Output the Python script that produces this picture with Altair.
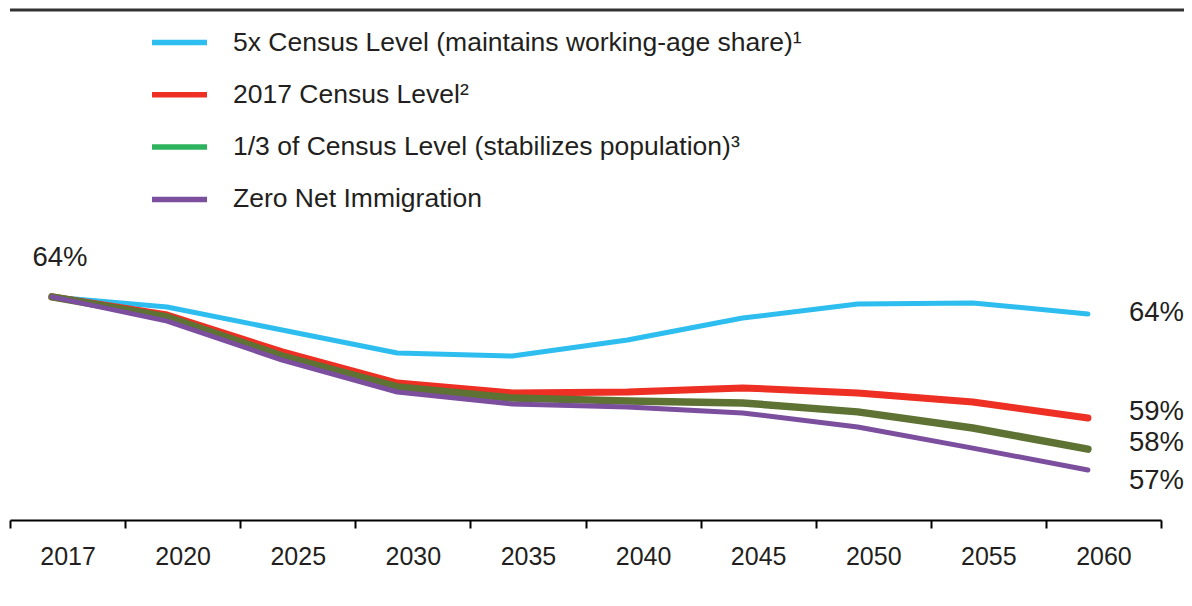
import altair as alt
import pandas as pd

years = ["2017", "2020", "2025", "2030", "2035", "2040", "2045", "2050", "2055", "2060"]
series = [
    "5x Census Level (maintains working-age share)¹",
    "2017 Census Level²",
    "1/3 of Census Level (stabilizes population)³",
    "Zero Net Immigration",
]
five_x = [64.25, 63.85, 62.95, 62.05, 61.93, 62.56, 63.42, 63.97, 64.01, 63.58]
census = [64.25, 63.54, 62.09, 60.87, 60.48, 60.52, 60.68, 60.48, 60.13, 59.50]
third = [64.25, 63.46, 61.93, 60.72, 60.28, 60.17, 60.09, 59.74, 59.11, 58.28]
zero = [64.25, 63.30, 61.77, 60.52, 60.05, 59.93, 59.70, 59.15, 58.32, 57.46]
end_labels = ["64%", "59%", "58%", "57%"]
start_label = "64%"

line_colors = ["#2DBDEF", "#EE2F24", "#5E7233", "#7B4F9E"]
legend_colors = ["#2DBDEF", "#EE2F24", "#2DB35E", "#7B4F9E"]
line_widths = [5, 7, 7.5, 5]
end_dy = [-1, -6, -6, 10.5]

FONT = "Liberation Sans"
TXT = "#231F20"

rows = []
for s, vals in zip(series, [five_x, census, third, zero]):
    for y, v in zip(years, vals):
        rows.append({"series": s, "year": y, "value": v})
df = pd.DataFrame(rows)

BP = 0.365
x_enc = alt.X(
    "year:O",
    sort=years,
    bandPosition=BP,
    scale=alt.Scale(type="band", domain=years, paddingInner=0, paddingOuter=0),
    axis=alt.Axis(
        title=None, labelAngle=0, tickBand="extent", domainColor="#000000",
        domainWidth=2, tickColor="#000000", tickWidth=2, tickSize=8,
        labelFontSize=25, labelFont=FONT, labelColor=TXT, labelPadding=16,
        grid=False,
    ),
)
y_enc = alt.Y("value:Q", scale=alt.Scale(domain=[55.5, 75.5], nice=False, zero=False), axis=None)

base = alt.Chart(df)
layers = []

# top rule
layers.append(
    alt.Chart(pd.DataFrame({"a": [0]})).mark_rule(color="#333333", strokeWidth=3).encode(
        y=alt.value(0), x=alt.value(0), x2=alt.value(1182)
    )
)

for s, c, w in zip(series, line_colors, line_widths):
    layers.append(
        base.transform_filter(alt.datum.series == s)
        .mark_line(color=c, strokeWidth=w, strokeCap="round", strokeJoin="round")
        .encode(x=x_enc, y=y_enc)
    )

# legend (dummy layer with no drawn data)
layers.append(
    base.transform_filter("false").mark_line().encode(
        x=x_enc, y=y_enc,
        stroke=alt.Stroke(
            "series:N",
            scale=alt.Scale(domain=series, range=legend_colors),
            legend=alt.Legend(
                title=None, orient="none", legendX=139, legendY=2,
                symbolType="stroke", symbolSize=3025, symbolStrokeWidth=5.5,
                labelFontSize=26.5, labelFont=FONT, labelColor=TXT, labelOffset=23,
                labelLimit=1000, rowPadding=8.3,
            ),
        ),
    )
)

# end labels
for s, lab, dy in zip(series, end_labels, end_dy):
    layers.append(
        base.transform_filter((alt.datum.series == s) & (alt.datum.year == years[-1]))
        .mark_text(align="left", baseline="middle", dx=41, dy=dy, fontSize=27.5, font=FONT, color=TXT)
        .encode(x=x_enc, y=y_enc, text=alt.value(lab))
    )

# start label
layers.append(
    base.transform_filter((alt.datum.series == series[0]) & (alt.datum.year == years[0]))
    .mark_text(align="center", baseline="middle", dx=8, dy=-39, fontSize=27.5, font=FONT, color=TXT)
    .encode(x=x_enc, y=y_enc, text=alt.value(start_label))
)

chart = alt.layer(*layers).properties(
    width=1151, height=510,
    autosize=alt.AutoSizeParams(type="none"),
    padding={"left": 2, "top": 2, "right": 23, "bottom": 66},
    background="white",
).configure_view(stroke=None)

chart.save("out.html", embed_options={"renderer": "svg", "actions": False})
